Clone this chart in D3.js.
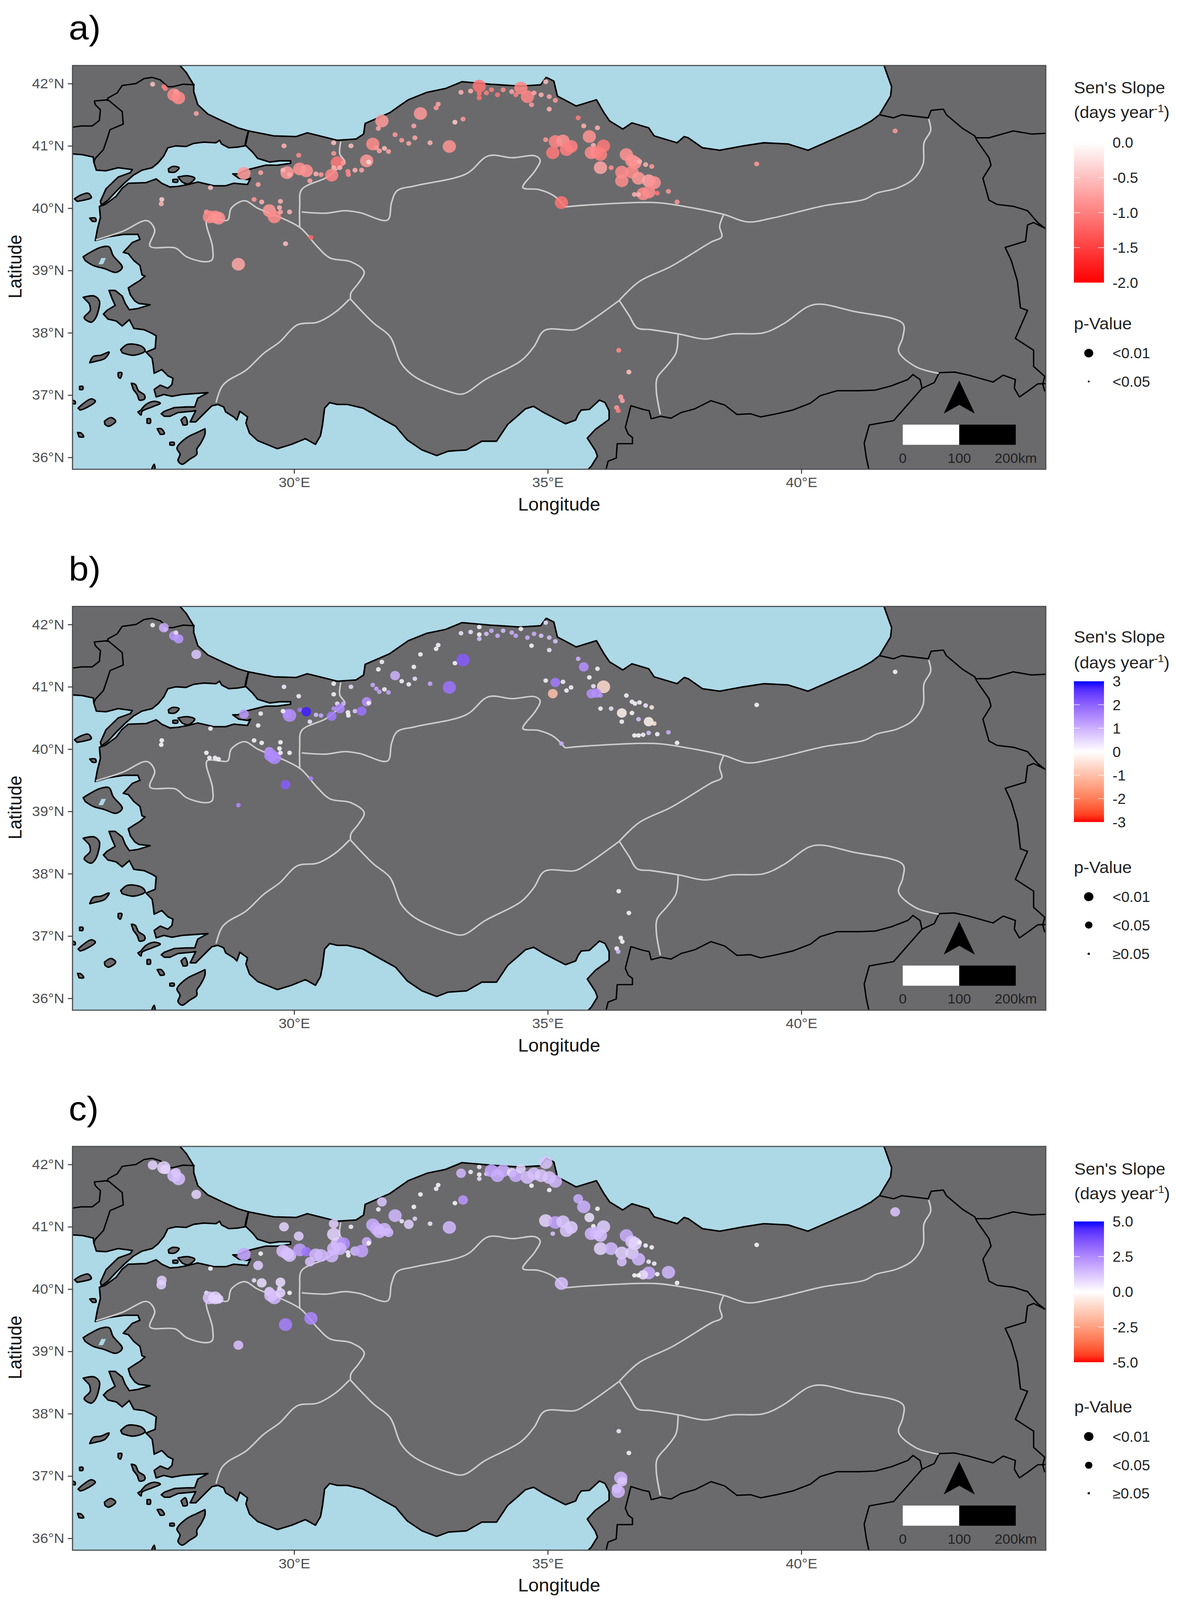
<!DOCTYPE html>
<html><head><meta charset="utf-8">
<script src="https://cdn.jsdelivr.net/npm/d3@7/dist/d3.min.js"></script>
<style>html,body{margin:0;padding:0;background:#fff;width:100%;height:100%;overflow:hidden}svg{display:block;width:100vw;height:100vh}text{font-family:"Liberation Sans",Arial,sans-serif}</style>
</head><body><div id="chart"></div>
<script>
const tickLon=[30,35,40], tickLat=[36,37,38,39,40,41,42];
const panelLabels=["a)","b)","c)"];
const legendTicksA=[0,-0.5,-1,-1.5,-2], legendTicksB=[3,2,1,0,-1,-2,-3], legendTicksC=[5,2.5,0,-2.5,-5];
const legendLabelsA=["0.0","-0.5","-1.0","-1.5","-2.0"], legendLabelsB=["3","2","1","0","-1","-2","-3"], legendLabelsC=["5.0","2.5","0.0","-2.5","-5.0"];
const pLabelsA=["<0.01","<0.05"], pLabelsBC=["<0.01","<0.05","≥0.05"];

const thraceCoast=[[27.75,42.4],[27.75,42.29],[27.87,42.18],[28.02,41.98],[28.02,41.87],[28.10,41.66],[28.30,41.51],[28.61,41.39],[28.89,41.29],[29.10,41.24],[29.06,41.13],[29.03,41.0],[28.89,40.98],[28.71,40.97],[28.57,41.03],[28.53,41.09],[28.46,41.05],[28.22,41.06],[28.02,41.04],[27.87,40.99],[27.67,41.0],[27.51,40.97],[27.43,40.84],[27.32,40.73],[27.20,40.65],[27.0,40.61],[26.83,40.53],[26.65,40.40],[26.49,40.27],[26.33,40.13],[26.20,40.05],[26.18,40.11],[26.29,40.31],[26.53,40.50],[26.77,40.57],[26.81,40.62],[26.53,40.65],[26.29,40.60],[26.10,40.61],[26.05,40.74],[26.04,40.82],[25.82,40.86],[25.63,40.87],[25.5,40.87],[25.5,42.4]];
const anatoliaCoast=[[29.10,41.24],[29.04,41.01],[29.18,40.90],[29.28,40.80],[29.52,40.74],[29.71,40.76],[29.93,40.76],[29.93,40.72],[29.67,40.69],[29.44,40.69],[29.24,40.65],[29.05,40.61],[28.89,40.55],[28.79,40.55],[28.91,40.48],[29.08,40.46],[29.14,40.48],[29.08,40.38],[28.81,40.40],[28.65,40.36],[28.42,40.36],[28.10,40.42],[27.91,40.38],[27.71,40.35],[27.55,40.34],[27.39,40.40],[27.28,40.47],[27.08,40.41],[26.73,40.40],[26.61,40.32],[26.49,40.19],[26.39,40.13],[26.27,40.06],[26.16,40.03],[26.18,39.85],[26.12,39.66],[26.08,39.48],[26.33,39.54],[26.65,39.58],[26.92,39.58],[26.96,39.50],[26.81,39.45],[26.63,39.29],[26.73,39.27],[26.84,39.16],[26.96,39.08],[27.0,38.93],[27.06,38.91],[26.96,38.84],[26.84,38.78],[26.73,38.72],[26.77,38.61],[26.86,38.51],[26.94,38.47],[27.16,38.45],[26.92,38.39],[26.75,38.37],[26.67,38.47],[26.61,38.59],[26.47,38.68],[26.35,38.68],[26.41,38.55],[26.47,38.44],[26.31,38.36],[26.24,38.30],[26.33,38.22],[26.49,38.19],[26.61,38.11],[26.75,38.21],[26.84,38.07],[27.04,38.05],[27.20,37.99],[27.28,37.95],[27.26,37.75],[27.08,37.69],[27.20,37.59],[27.22,37.49],[27.24,37.35],[27.39,37.41],[27.51,37.31],[27.61,37.27],[27.59,37.17],[27.51,37.11],[27.36,37.16],[27.24,37.09],[27.28,36.97],[27.43,37.01],[27.59,36.98],[27.79,37.01],[28.30,37.04],[28.10,36.95],[28.04,36.81],[27.88,36.81],[27.64,36.80],[27.44,36.74],[27.38,36.70],[27.44,36.66],[27.55,36.66],[27.71,36.72],[27.98,36.74],[28.06,36.75],[27.95,36.57],[28.06,36.57],[28.28,36.75],[28.38,36.83],[28.50,36.85],[28.61,36.81],[28.65,36.73],[28.81,36.65],[28.87,36.60],[28.93,36.74],[29.08,36.65],[29.05,36.55],[29.12,36.39],[29.28,36.27],[29.52,36.19],[29.67,36.14],[29.95,36.21],[30.22,36.30],[30.42,36.21],[30.52,36.35],[30.56,36.53],[30.60,36.79],[30.70,36.88],[30.85,36.85],[31.05,36.85],[31.36,36.79],[31.71,36.63],[32.0,36.50],[32.23,36.28],[32.52,36.12],[32.81,36.03],[33.04,36.10],[33.40,36.12],[33.70,36.26],[33.99,36.26],[34.21,36.53],[34.41,36.67],[34.56,36.78],[34.72,36.82],[34.92,36.72],[35.35,36.54],[35.55,36.60],[35.60,36.69],[35.66,36.76],[35.82,36.77],[36.02,36.92],[36.13,36.88],[36.21,36.75],[36.21,36.61],[35.94,36.45],[35.78,36.31],[35.94,36.11],[35.98,36.02],[35.86,35.86],[35.80,35.81],[35.78,35.7],[45,35.7],[45,42.4],[41.6,42.4],[41.63,42.29],[41.70,42.13],[41.78,41.95],[41.76,41.80],[41.62,41.61],[41.54,41.50],[41.38,41.40],[41.16,41.30],[40.69,41.13],[40.13,40.93],[39.74,41.03],[39.26,41.05],[38.86,41.0],[38.39,40.93],[38.05,40.97],[37.77,41.13],[37.69,41.15],[37.55,41.05],[37.10,41.16],[36.99,41.29],[36.66,41.37],[36.48,41.27],[36.22,41.40],[36.11,41.53],[35.96,41.74],[35.56,41.64],[35.19,41.80],[35.12,42.04],[34.97,42.10],[34.86,41.98],[34.45,41.96],[33.87,41.99],[33.31,42.03],[32.98,41.92],[32.62,41.86],[32.25,41.74],[31.88,41.53],[31.40,41.36],[31.37,41.19],[31.22,41.11],[30.85,41.09],[30.26,41.21],[30.04,41.15],[29.60,41.16]];
const islandShapes=[
 [[25.67,40.15],[25.79,40.21],[25.94,40.24],[26.0,40.17],[25.86,40.13],[25.72,40.11]],
 [[25.97,39.84],[26.08,39.84],[26.09,39.79],[26.02,39.79]],
 [[25.84,39.22],[25.98,39.29],[26.18,39.37],[26.35,39.38],[26.43,39.24],[26.61,39.05],[26.49,38.97],[26.26,39.03],[26.04,39.08],[25.88,39.16]],
 [[25.84,38.57],[26.06,38.59],[26.16,38.51],[26.14,38.36],[26.08,38.23],[26.0,38.17],[25.86,38.24],[25.98,38.36],[25.96,38.47]],
 [[26.58,37.73],[26.70,37.81],[26.80,37.82],[27.0,37.78],[27.06,37.71],[26.84,37.64],[26.61,37.68]],
 [[25.97,37.52],[26.04,37.62],[26.19,37.64],[26.35,37.69],[26.27,37.59],[26.13,37.55]],
 [[26.53,37.36],[26.60,37.36],[26.57,37.27],[26.53,37.30]],
 [[26.79,37.19],[26.87,37.17],[26.93,37.07],[27.05,37.0],[27.05,36.94],[26.95,36.92],[26.91,37.0],[26.83,37.09]],
 [[26.98,36.76],[27.08,36.85],[27.24,36.90],[27.36,36.87],[27.20,36.81],[27.0,36.74],[26.98,36.68],[26.92,36.73]],
 [[27.77,36.60],[27.85,36.65],[27.89,36.53],[27.81,36.52]],
 [[27.10,36.62],[27.16,36.62],[27.16,36.55],[27.10,36.55]],
 [[27.30,36.46],[27.38,36.46],[27.44,36.38],[27.36,36.37]],
 [[28.24,36.46],[28.24,36.37],[28.16,36.23],[28.08,36.13],[28.08,36.05],[27.94,35.97],[27.79,35.89],[27.71,35.95],[27.75,36.05],[27.69,36.15],[27.87,36.31],[28.06,36.39]],
 [[27.55,36.24],[27.63,36.24],[27.63,36.20],[27.55,36.20]],
 [[26.26,36.58],[26.39,36.64],[26.48,36.58],[26.34,36.50],[26.27,36.53]],
 [[25.74,36.79],[25.82,36.85],[26.0,36.94],[26.08,36.90],[25.86,36.78],[25.78,36.76]],
 [[25.62,36.92],[25.68,36.90],[25.68,36.86],[25.62,36.87]],
 [[25.77,37.14],[25.83,37.14],[25.83,37.09],[25.77,37.09]],
 [[25.73,36.40],[25.80,36.39],[25.85,36.33],[25.76,36.33]],
 [[27.19,35.81],[27.24,35.89],[27.26,35.81]],
 [[27.52,40.63],[27.61,40.67],[27.73,40.65],[27.65,40.58],[27.53,40.58]],
 [[27.71,40.50],[27.91,40.52],[28.04,40.48],[27.91,40.39],[27.79,40.42]],
 [[27.61,40.46],[27.70,40.46],[27.70,40.42],[27.61,40.42]]
];
const lakeShapes=[[[26.14,39.10],[26.20,39.20],[26.29,39.20],[26.23,39.10]]];
const blackBorders=[
 [[28.04,41.98],[27.81,41.99],[27.61,41.95],[27.51,41.95],[27.36,42.06],[27.20,42.10],[27.04,42.08],[26.88,42.0],[26.61,41.97],[26.51,41.85],[26.33,41.77],[26.31,41.72]],
 [[26.33,41.74],[26.61,41.55],[26.63,41.35],[26.37,41.26],[26.31,41.11],[26.24,40.94],[26.08,40.80],[26.05,40.74]],
 [[25.5,41.30],[25.63,41.30],[25.80,41.32],[26.02,41.32],[26.16,41.41],[26.18,41.58],[26.08,41.66],[26.06,41.72],[26.31,41.74]],
 [[36.15,35.7],[36.15,35.81],[36.19,35.94],[36.35,35.99],[36.37,36.22],[36.67,36.22],[36.67,36.32],[36.59,36.37],[36.53,36.48],[36.64,36.83],[36.88,36.77],[37.0,36.75],[37.04,36.62],[37.23,36.66],[37.43,36.63],[37.63,36.72],[37.90,36.78],[38.22,36.91],[38.49,36.84],[38.73,36.69],[39.0,36.70],[39.20,36.65],[39.51,36.70],[39.83,36.76],[40.18,36.87],[40.37,36.99],[40.7,37.07],[41.14,37.07],[41.46,37.08],[41.78,37.15],[42.10,37.25],[42.2,37.33],[42.34,37.25],[42.38,37.11],[42.62,37.20],[42.72,37.36],[43.02,37.37],[43.30,37.32],[43.78,37.21],[43.98,37.32],[44.22,37.25],[44.20,37.11],[44.30,36.97],[44.46,37.06],[44.66,37.18],[45,37.19]],
 [[42.38,37.11],[42.10,36.85],[41.82,36.59],[41.34,36.52],[41.24,36.23],[41.28,36.0],[41.36,35.7]],
 [[45,39.6],[44.80,39.68],[44.58,39.77],[44.46,39.73],[44.42,39.47],[44.02,39.37],[44.14,39.16],[44.26,38.83],[44.32,38.40],[44.46,38.36],[44.22,37.91],[44.58,37.72],[44.58,37.46],[44.80,37.30],[44.76,37.18],[44.80,37.06]],
 [[43.46,41.09],[43.70,40.81],[43.74,40.69],[43.58,40.48],[43.70,40.13],[43.86,40.06],[44.18,40.03],[44.46,39.96],[44.66,39.77],[44.80,39.68]],
 [[41.54,41.50],[41.82,41.45],[41.98,41.50],[42.50,41.45],[42.56,41.57],[42.80,41.59],[42.86,41.50],[43.18,41.28],[43.42,41.16],[43.46,41.09]],
 [[43.44,41.13],[43.70,41.13],[44.18,41.24],[44.54,41.19],[45,41.21]]
];
const regionLines=[
 [[26.09,39.49],[26.62,39.63],[27.10,39.80],[27.25,39.65],[27.16,39.39],[27.66,39.36],[27.88,39.22],[28.25,39.14],[28.38,39.17],[28.39,39.38],[28.28,39.81],[28.54,39.81],[28.69,39.81],[28.76,40.0],[29.02,40.12],[29.28,40.0],[29.76,39.84],[30.13,39.68],[30.46,39.38],[30.71,39.20],[31.12,39.14],[31.38,38.98],[31.27,38.80],[31.12,38.64],[31.11,38.55]],
 [[28.46,36.88],[28.57,37.13],[28.69,37.23],[29.05,37.40],[29.40,37.67],[29.71,37.85],[30.07,38.13],[30.46,38.17],[30.81,38.33],[31.09,38.54]],
 [[31.10,38.55],[31.56,38.16],[31.89,37.94],[32.11,37.51],[32.37,37.30],[33.04,37.06],[33.33,37.02],[33.77,37.25],[34.47,37.55],[34.73,37.78],[34.94,38.04],[35.54,38.05],[35.77,38.15],[36.41,38.52]],
 [[36.41,38.52],[36.80,38.82],[37.44,39.07],[38.23,39.46],[38.43,39.54],[38.39,39.71],[38.47,39.90]],
 [[35.34,40.02],[35.77,40.05],[37.12,40.09],[37.75,40.02],[38.47,39.90],[38.94,39.78],[39.42,39.84],[40.45,40.04],[41.24,40.14],[41.48,40.24],[41.88,40.32],[42.20,40.46],[42.40,40.71],[42.42,41.05],[42.55,41.25],[42.51,41.43]],
 [[30.92,41.07],[30.90,40.87],[31.0,40.74],[30.85,40.63],[30.63,40.49],[30.15,40.30],[30.11,40.04],[30.11,39.69]],
 [[30.15,39.94],[30.63,39.92],[31.0,39.96],[31.29,39.93],[31.84,39.81],[31.92,40.09],[32.03,40.28],[32.39,40.36],[33.39,40.55],[33.83,40.84],[34.31,40.81],[34.75,40.84],[34.85,40.77],[34.75,40.60],[34.51,40.33],[34.82,40.30],[35.12,40.20],[35.34,40.02]],
 [[36.41,38.52],[36.61,38.27],[36.76,38.08],[37.04,38.05],[37.59,37.98],[38.11,37.90],[38.62,37.98],[39.26,38.0],[39.66,38.15],[40.13,38.42],[40.37,38.46],[41.0,38.35],[42.0,38.15],[42.0,37.93],[41.92,37.70],[42.27,37.45],[42.71,37.35]],
 [[37.57,37.98],[37.53,37.68],[37.36,37.48],[37.16,37.28],[37.14,37.08],[37.22,36.69]]
];

const stationLon=[27.21,27.43,27.46,27.63,27.72,27.67,28.07,29.01,29.34,29.29,
28.35,27.39,27.38,28.27,28.33,28.44,28.51,29.21,29.36,29.73,
29.51,29.61,29.54,29.71,29.73,29.91,29.83,30.33,28.90,29.86,
29.91,29.78,30.11,30.24,30.31,30.43,30.53,30.74,30.85,30.97,
30.78,30.78,31.12,31.06,31.07,31.20,31.33,31.43,31.47,30.90,
30.78,30.09,29.80,31.73,31.66,31.55,31.62,31.68,31.78,31.86,
31.99,32.12,32.26,32.38,32.36,32.49,32.80,32.84,32.68,33.06,
33.17,33.33,33.29,33.48,33.65,33.65,33.65,33.79,33.89,34.01,
34.12,34.29,34.37,34.47,34.60,34.73,34.87,35.03,35.15,34.68,
35.03,34.96,35.60,35.71,35.82,35.98,35.90,36.10,35.96,35.86,
36.04,34.96,35.15,35.30,35.46,35.37,35.10,36.55,36.66,36.72,
36.81,36.93,37.05,36.04,36.25,36.46,36.66,36.46,36.79,36.99,
37.10,36.99,36.88,37.16,37.38,36.71,36.79,37.55,35.27,39.12,
41.85,36.40,36.60,36.44,36.47,36.36,36.39];
const stationLat=[41.99,41.95,41.92,41.82,41.77,41.87,41.52,40.56,40.57,40.38,
40.33,40.14,40.07,39.94,39.86,39.86,39.84,40.14,40.10,40.11,
39.96,39.86,39.90,40.01,39.94,39.94,39.43,39.53,39.10,40.57,
40.54,40.61,40.63,40.60,40.44,40.55,40.54,40.53,40.73,40.73,
40.88,41.05,41.0,40.59,40.54,40.61,40.61,40.76,40.74,40.65,
40.65,40.85,41.0,41.40,41.28,41.03,40.97,40.92,40.96,40.91,
41.18,41.09,41.04,41.13,41.32,41.52,41.61,41.67,41.05,40.99,
41.38,41.43,41.86,41.88,41.96,41.84,41.77,41.85,41.90,41.82,
41.90,41.87,41.82,41.93,41.79,41.85,41.82,41.79,41.73,41.66,
41.59,42.03,41.45,41.32,41.15,41.29,41.01,41.0,40.90,40.89,
40.86,41.10,41.07,41.08,40.99,40.94,40.89,40.86,40.76,40.73,
40.75,40.70,40.67,40.65,40.65,40.58,40.58,40.44,40.48,40.44,
40.41,40.26,40.23,40.24,40.27,40.22,40.22,40.10,40.09,40.71,
41.24,37.72,37.37,36.97,36.91,36.80,36.75];
const slopeA=[-.5,-1,-1,-.9,-.9,-.8,-.7,-.8,-.7,-.7,
-.5,-.4,-.6,-.8,-.9,-.9,-.85,-.8,-.6,-.6,
-.8,-.9,-.9,-.6,-.7,-.6,-.5,-1.2,-.7,-.8,
-.7,-.6,-.85,-.85,-.7,-.6,-.8,-.95,-1.05,-.8,
-.8,-.5,-.5,-.9,-.9,-.6,-.7,-.8,-.3,-.6,
-.6,-.9,-.6,-.8,-.7,-.9,-.8,-.7,-.5,-.7,
-.8,-.8,-.7,-.7,-.7,-.8,-.8,-.7,-.6,-.85,
-.4,-.8,-.6,-.6,-1.1,-1.1,-1.1,-1,-1,-1.05,
-.9,-.7,-1,-.95,-.95,-.7,-.6,-.7,-.8,-.8,
-.6,-.5,-1,-.6,-.85,-.6,-.6,-1.05,-1,-.9,
-1,-.8,-.95,-.85,-1,-1,-1.05,-.85,-.85,-.85,
-.6,-.6,-.8,-.7,-.9,-.9,-.9,-.9,-.8,-.7,
-.85,-.9,-.9,-1.1,-.8,-.6,-.6,-.8,-1.1,-.8,
-.8,-.9,-.5,-.7,-.7,-.8,-1];
const classA=[1,1,1,0,0,1,1,0,1,1,
1,1,1,1,0,0,0,1,1,1,
0,0,1,1,1,1,1,1,0,0,
1,1,0,0,1,1,1,0,0,1,
1,1,1,1,1,1,1,0,1,1,
1,1,1,0,1,0,1,1,1,1,
1,1,1,1,1,0,1,1,1,0,
1,1,1,1,0,1,1,1,1,1,
1,1,1,0,0,1,1,1,1,1,
1,1,1,1,0,1,1,0,0,0,
0,1,0,0,0,0,0,0,0,0,
1,1,1,0,1,0,0,0,0,0,
0,0,0,1,1,1,1,1,0,1,
1,1,1,1,1,1,1];
const slopeB=[.1,1,1,1.3,1.3,.4,.7,1.3,.1,.1,
.1,.05,.05,.1,.1,.1,.1,.1,.05,.05,
1.3,1.5,1.5,.05,.1,.1,2.1,1.6,1.5,1.7,
1.4,.1,1.7,2.8,.3,.8,1.1,1.7,.4,1,
.1,.1,.4,.1,.1,.6,1.8,1.4,.1,1.5,
1.4,.1,.2,.1,.1,1.1,1.1,1.1,.1,1.1,
1,.1,.1,.4,.1,.1,.1,.1,1.1,1.8,
.05,2.1,.3,.3,.05,.05,.8,.8,1,1,
.8,1,1.1,.1,1,1,.7,.7,.7,.1,
.3,.4,1,1.4,.05,.1,.3,-.6,1.4,1.4,
1.3,.1,1.7,.1,.1,.1,-1,.1,.1,.1,
.1,.3,-.3,.1,.3,-.2,-.1,.1,.7,-.2,
-.4,.7,.1,.1,1,.05,.05,.05,1.1,.05,
.05,.05,.05,.05,.05,.1,.8];
const classB=[2,1,2,1,1,2,1,1,2,2,
2,2,2,2,2,2,2,2,2,2,
1,0,0,2,2,2,1,2,2,1,
0,2,2,1,2,2,2,1,2,2,
2,2,2,2,2,2,1,1,2,1,
2,2,2,2,2,2,2,2,2,2,
1,2,2,2,2,2,2,2,2,0,
2,0,2,2,2,2,2,2,2,2,
2,2,2,2,2,2,2,2,2,2,
2,2,2,1,2,2,2,0,1,1,
2,2,1,2,2,2,1,2,2,2,
2,2,2,2,2,1,2,2,2,1,
2,2,2,2,2,2,2,2,2,2,
2,2,2,2,2,2,2];
const slopeC=[.9,.9,.9,1.3,1.3,1.2,.9,1.9,.1,1,
.1,1,1,.4,1.2,.9,.9,.6,.7,.7,
.9,1.5,1.3,.6,.9,.1,2.7,2.6,1.3,1.5,
1.3,1.3,2,2.9,1.3,1.5,1.5,1.5,1.2,2.4,
.9,1,.3,.3,.3,1.5,1.9,1.7,.1,1.5,
1.5,1,.9,1.2,.3,1.7,1.7,1.5,1.5,1.5,
1.5,.4,1,.9,.1,.1,.3,.1,.4,1.5,
.05,2.2,1.5,.3,.4,.1,.6,.9,1.9,1.7,
1.7,.7,1.7,.9,1.3,1.3,1.2,1.2,1.5,.1,
.1,1.2,1.7,1.6,.6,.1,.1,1,1.5,1.5,
1.3,.9,1.9,1.2,1,1.2,1.2,1.7,1.2,.9,
.3,.1,.1,.9,1.5,1,1,1.3,1.5,.3,
.3,1.7,.7,.1,1.5,.05,.05,.05,1.3,.05,
1.2,.4,.1,1.5,1.2,1.2,1.5];
const classC=[1,0,1,0,0,1,1,0,2,1,
2,1,1,2,0,0,1,2,1,1,
1,0,0,2,1,2,0,0,1,0,
0,0,0,1,1,0,0,0,0,0,
0,1,2,2,2,1,0,1,2,0,
0,1,1,1,2,0,0,0,0,1,
0,2,1,2,2,2,2,2,2,0,
2,1,1,2,2,2,2,2,0,0,
0,1,0,1,0,0,0,0,0,2,
2,0,1,0,1,2,2,0,0,0,
0,0,0,0,0,0,2,0,0,0,
2,2,2,0,0,0,0,1,0,2,
2,0,1,2,0,2,2,2,0,2,
1,2,2,0,1,1,0];
const radiiAll=[[17,6.5],[17,12.5,6],[17,12.5,6]];
const legendRadii=[[11.5,2.5],[12,9.5,3],[12,9.5,3]];

const panelTop=[175.5,1624.5,3071], panelW=2492.3, panelH=1081.5, panelX=185.7;
const lonExtent=[25.63,44.82], latExtent=[35.81,42.29];
const SEA="#ADD8E6", LAND="#6A6A6C", REGION="#CCCCCC";

const svg=d3.select("#chart").append("svg").attr("viewBox","0 0 3014 4286").attr("preserveAspectRatio","none");
const x=d3.scaleLinear().domain(lonExtent).range([0,panelW]);
const y=d3.scaleLinear().domain(latExtent).range([panelH,0]);
const lineGen=d3.line().x(d=>x(d[0])).y(d=>y(d[1]));
const smooth=d3.line().x(d=>x(d[0])).y(d=>y(d[1])).curve(d3.curveCatmullRom.alpha(.5));
const colorScales=[
 d3.scaleLinear().domain([-2,0]).range(["#ff0000","#ffffff"]).interpolate(d3.interpolateRgb),
 d3.scaleLinear().domain([-3,0,3]).range(["#ff0000","#ffffff","#0000ff"]).interpolate(d3.interpolateLab),
 d3.scaleLinear().domain([-5,0,5]).range(["#ff0000","#ffffff","#0000ff"]).interpolate(d3.interpolateLab)
];
const slopes=[slopeA,slopeB,slopeC], classes=[classA,classB,classC];
const legendTicks=[legendTicksA,legendTicksB,legendTicksC], legendLabels=[legendLabelsA,legendLabelsB,legendLabelsC];
const pLabels=[pLabelsA,pLabelsBC,pLabelsBC];
const defs=svg.append("defs");
defs.append("clipPath").attr("id","panelClip").append("rect").attr("width",panelW).attr("height",panelH);
const legendPos=[
 {title1:235,title2:301,bar:[382,757],pTitle:867,dots:[946,1022],titleX:2750},
 {title1:1706,title2:1775,bar:[1825,2202],pTitle:2324,dots:[2402,2478,2555],titleX:2750},
 {title1:3131,title2:3197,bar:[3272,3649],pTitle:3769,dots:[3848,3925,4000],titleX:2751}
];

panelTop.forEach((top,i)=>{
 const g=svg.append("g").attr("transform",`translate(${panelX},${top})`);
 const m=g.append("g").attr("clip-path","url(#panelClip)");
 m.append("rect").attr("width",panelW).attr("height",panelH).attr("fill",SEA);
 const landStyle=s=>s.attr("fill",LAND).attr("stroke","#000").attr("stroke-width",4).attr("stroke-linejoin","round");
 m.append("path").attr("d",lineGen(thraceCoast)+"Z").call(landStyle);
 m.append("path").attr("d",lineGen(anatoliaCoast)+"Z").call(landStyle);
 m.selectAll("path.island").data(islandShapes).join("path").attr("class","island").attr("d",d=>smooth(d)+"Z").call(landStyle);
 m.selectAll("path.lake").data(lakeShapes).join("path").attr("class","lake").attr("d",d=>lineGen(d)+"Z").attr("fill",SEA);
 m.selectAll("path.border").data(blackBorders).join("path").attr("class","border").attr("d",lineGen).attr("fill","none").attr("stroke","#000").attr("stroke-width",3.6).attr("stroke-linejoin","round");
 m.selectAll("path.region").data(regionLines).join("path").attr("class","region").attr("d",smooth).attr("fill","none").attr("stroke",REGION).attr("stroke-width",4);
 const col=colorScales[i], sl=slopes[i], cl=classes[i], rr=radiiAll[i];
 m.selectAll("circle.stn").data(stationLon.map((lon,k)=>({lon,lat:stationLat[k],s:sl[k],c:cl[k]}))).join("circle")
  .attr("class","stn").attr("cx",d=>x(d.lon)).attr("cy",d=>y(d.lat)).attr("r",d=>rr[d.c]).attr("fill",d=>col(d.s)).attr("fill-opacity",.85);
 const barLon=42.0, km100=1.114, x0=x(barLon), x1=x(barLon+km100), x2=x(barLon+2*km100);
 m.append("rect").attr("x",x0).attr("y",962).attr("width",x1-x0).attr("height",54).attr("fill","#fff");
 m.append("rect").attr("x",x1).attr("y",962).attr("width",x2-x1).attr("height",54).attr("fill","#000");
 [[x0,"0"],[x1,"100"],[x2,"200km"]].forEach(([px,t])=>m.append("text").attr("x",px).attr("y",1064).attr("text-anchor","middle").attr("font-size",36).attr("fill","#222").text(t));
 m.append("path").attr("d",`M${x1},844L${x1+40},932.5L${x1},909L${x1-40},932.5Z`).attr("fill","#000");
 g.append("rect").attr("width",panelW).attr("height",panelH).attr("fill","none").attr("stroke","#4a4f52").attr("stroke-width",3);
 const ax=d3.axisBottom(x).tickValues(tickLon).tickSize(12).tickPadding(10).tickFormat(d=>d+"°E");
 const ay=d3.axisLeft(y).tickValues(tickLat).tickSize(12).tickPadding(9).tickFormat(d=>d+"°N");
 const ga=g.append("g").attr("transform",`translate(0,${panelH})`).call(ax);
 const gb=g.append("g").call(ay);
 [ga,gb].forEach(a=>{a.select(".domain").remove();a.selectAll("line").attr("stroke","#333").attr("stroke-width",2.5);a.selectAll("text").attr("font-size",37).attr("fill","#4D4D4D").attr("font-family",'"Liberation Sans",Arial,sans-serif');});
 g.append("text").attr("x",panelW*.5).attr("y",1175.5+17).attr("text-anchor","middle").attr("font-size",48).attr("fill","#111").text("Longitude");
 g.append("text").attr("transform",`translate(${38-panelX+17},${714-175.5}) rotate(-90)`).attr("text-anchor","middle").attr("font-size",48).attr("fill","#111").text("Latitude");
 svg.append("text").attr("x",176).attr("y",top-70).attr("font-family",'"Open Sans"').attr("font-size",92).attr("fill","#000").text(panelLabels[i]);
 const L=legendPos[i];
 const leg=svg.append("g");
 leg.append("text").attr("x",L.titleX).attr("y",L.title1+15).attr("font-size",44).attr("fill","#222").text("Sen's Slope");
 const t2=leg.append("text").attr("x",L.titleX).attr("y",L.title2+15).attr("font-size",44).attr("fill","#222");
 t2.append("tspan").text("(days year");
 t2.append("tspan").attr("font-size",28).attr("dy",-16).text("-1");
 t2.append("tspan").attr("dy",16).text(")");
 const ticks=legendTicks[i], dom=d3.extent(ticks);
 const by=d3.scaleLinear().domain([dom[1],dom[0]]).range(L.bar);
 const gid="grad"+i;
 const gr=defs.append("linearGradient").attr("id",gid).attr("x1",0).attr("x2",0).attr("y1",0).attr("y2",1);
 d3.range(0,1.0001,.05).forEach(t=>gr.append("stop").attr("offset",t).attr("stop-color",col(dom[1]+(dom[0]-dom[1])*t)));
 leg.append("rect").attr("x",2750).attr("y",L.bar[0]).attr("width",77).attr("height",L.bar[1]-L.bar[0]).attr("fill",`url(#${gid})`);
 ticks.forEach((v,k)=>{
  const yy=by(v);
  if(k>0&&k<ticks.length-1){[[2750,2765],[2812,2827]].forEach(([a,b])=>leg.append("line").attr("x1",a).attr("x2",b).attr("y1",yy).attr("y2",yy).attr("stroke","#fff").attr("stroke-width",2).attr("stroke-opacity",.7));}
  leg.append("text").attr("x",2849).attr("y",yy+14).attr("font-size",38).attr("fill","#222").text(legendLabels[i][k]);
 });
 leg.append("text").attr("x",L.titleX).attr("y",L.pTitle+15).attr("font-size",44).attr("fill","#222").text("p-Value");
 L.dots.forEach((dy,k)=>{
  leg.append("circle").attr("cx",2788).attr("cy",dy).attr("r",legendRadii[i][k]).attr("fill","#000");
  leg.append("text").attr("x",2849).attr("y",dy+14).attr("font-size",38).attr("fill","#222").text(pLabels[i][k]);
 });
});
</script></body></html>
